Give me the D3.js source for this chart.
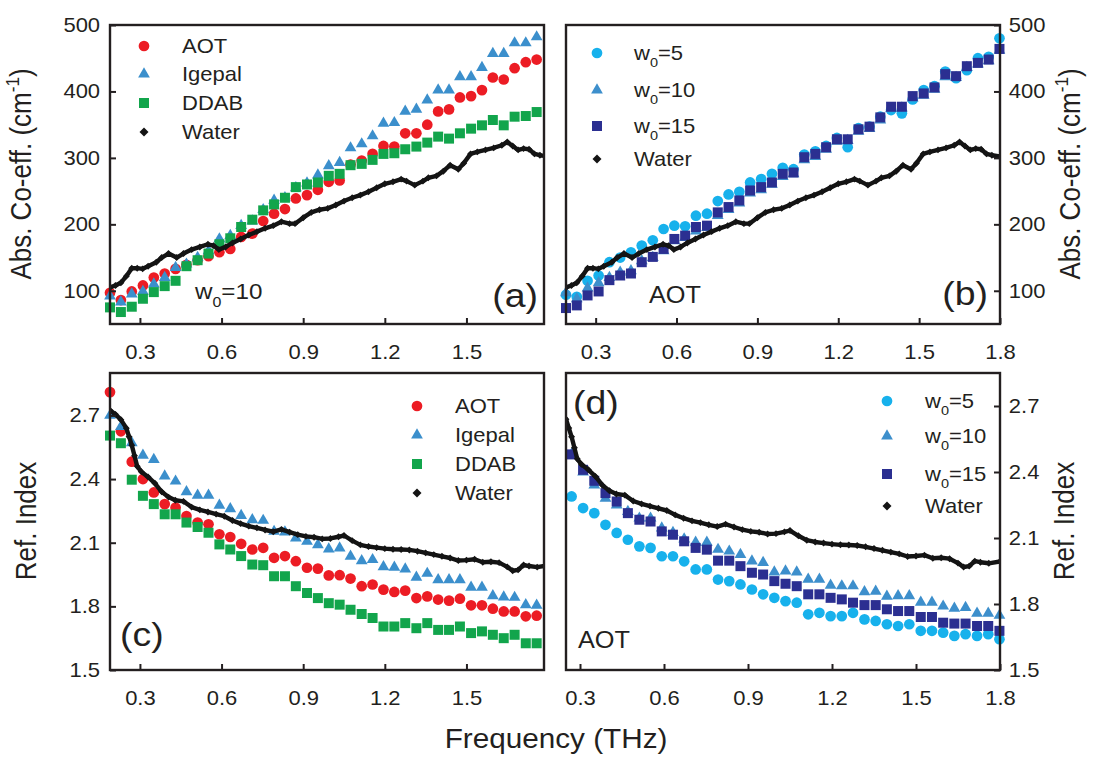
<!DOCTYPE html>
<html>
<head>
<meta charset="utf-8">
<script src="https://cdn.jsdelivr.net/npm/d3@7"></script>
<style>
  body { margin: 0; background: #fff; }
  svg text { font-family: "Liberation Sans", Arial, Helvetica, sans-serif; fill: #231f20; }
</style>
</head>
<body>
<svg id="fig" width="1104" height="757"></svg>
<script>
// ---- frequency grid shared by the surfactant / w0 series (THz) ----
const freq = [0.190, 0.230, 0.270, 0.311, 0.351, 0.391, 0.431, 0.471, 0.512, 0.552,
  0.592, 0.632, 0.672, 0.713, 0.753, 0.793, 0.833, 0.873, 0.914, 0.954,
  0.994, 1.034, 1.074, 1.115, 1.155, 1.195, 1.235, 1.275, 1.316, 1.356,
  1.396, 1.436, 1.476, 1.517, 1.557, 1.597, 1.637, 1.677, 1.718, 1.758, 1.798];

// ---- (a) absorption coefficient, w0 = 10, cm^-1 ----
const absAOT = [97, 86, 99, 108, 120, 126, 133, 139, 146, 152,
  158, 163, 181, 186, 205, 216, 223, 239, 244, 252,
  264, 266, 290, 296, 306, 318, 317, 337, 337, 350,
  370, 373, 391, 393, 402, 421, 418, 435, 444, 448];
const absIgepal = [92, 83, 95, 99, 110, 120, 135, 140, 150, 160,
  178, 183, 198, 205, 222, 236, 240, 255, 262, 274,
  288, 293, 315, 321, 333, 352, 353, 370, 373, 387,
  402, 402, 422, 422, 436, 457, 457, 473, 473, 482];
const absDDAB = [75, 68, 76, 88, 98, 107, 115, 137, 146, 156,
  170, 179, 196, 207, 221, 230, 240, 256, 260, 263,
  273, 276, 289, 291, 297, 306, 307, 313, 317, 323,
  332, 329, 337, 344, 349, 357, 349, 362, 363, 369];

// ---- (b) absorption coefficient, AOT ----
const absW5 = [94, 91, 115, 123, 143, 150, 158, 168, 176, 193,
  198, 197, 213, 216, 235, 245, 249, 263, 268, 276,
  285, 283, 305, 310, 318, 330, 316, 345, 347, 362,
  372, 367, 388, 402, 408, 430, 420, 432, 450, 452, 480];
const absW10 = [97, 88, 104, 112, 120, 128, 130, 145, 150, 160,
  175, 180, 190, 195, 213, 222, 232, 247, 252, 260,
  272, 276, 297, 302, 313, 325, 326, 340, 344, 357,
  374, 375, 390, 394, 403, 422, 421, 436, 441, 446, 462];
const absW15 = [74, 78, 93, 99, 116, 123, 126, 143, 151, 163,
  178, 183, 196, 198, 218, 226, 236, 251, 256, 263,
  276, 278, 301, 306, 316, 328, 328, 343, 347, 361,
  377, 377, 393, 397, 406, 426, 423, 438, 443, 448, 464];

// ---- bulk water absorption ----
const waterAbsFreq = [0.19, 0.21, 0.23, 0.25, 0.27, 0.29, 0.31, 0.33, 0.36, 0.38,
  0.405, 0.435, 0.46, 0.49, 0.52, 0.55, 0.57, 0.59, 0.615, 0.64,
  0.67, 0.70, 0.73, 0.76, 0.79, 0.82, 0.85, 0.87, 0.90, 0.93,
  0.96, 0.99, 1.02, 1.05, 1.08, 1.11, 1.14, 1.17, 1.20, 1.23,
  1.26, 1.28, 1.31, 1.34, 1.36, 1.39, 1.415, 1.44, 1.47, 1.49,
  1.515, 1.54, 1.57, 1.60, 1.63, 1.65, 1.67, 1.69, 1.71, 1.73,
  1.75, 1.77, 1.80];
const waterAbs = [105, 108, 112, 122, 134, 134, 133, 137, 143, 150,
  156, 150, 156, 162, 166, 170, 168, 162, 166, 172,
  178, 184, 189, 194, 198, 204, 201, 201, 210, 218,
  222, 224, 229, 235, 240, 244, 249, 255, 261, 264,
  268, 265, 259, 265, 270, 273, 280, 289, 283, 292,
  306, 309, 312, 315, 319, 324, 318, 312, 314, 313,
  306, 304, 302];

// ---- (c) refractive index, w0 = 10 ----
const riAOT = [2.81, 2.625, 2.482, 2.40, 2.337, 2.282, 2.266, 2.226, 2.195, 2.187,
  2.14, 2.127, 2.095, 2.068, 2.076, 2.029, 2.037, 2.013, 1.982, 1.978,
  1.946, 1.947, 1.931, 1.895, 1.903, 1.879, 1.868, 1.874, 1.839, 1.847,
  1.832, 1.827, 1.836, 1.805, 1.805, 1.789, 1.776, 1.776, 1.753, 1.756];
const riIgepal = [2.70, 2.647, 2.571, 2.512, 2.492, 2.414, 2.39, 2.34, 2.323, 2.323,
  2.276, 2.26, 2.228, 2.208, 2.205, 2.153, 2.15, 2.122, 2.106, 2.09,
  2.07, 2.075, 2.036, 2.015, 2.02, 1.986, 1.984, 1.976, 1.937, 1.955,
  1.925, 1.925, 1.925, 1.89, 1.89, 1.85, 1.844, 1.842, 1.807, 1.805];
const riDDAB = [2.605, 2.569, 2.397, 2.321, 2.282, 2.234, 2.234, 2.195, 2.174, 2.147,
  2.092, 2.068, 2.037, 1.997, 1.994, 1.942, 1.942, 1.895, 1.863, 1.839,
  1.815, 1.808, 1.784, 1.764, 1.745, 1.705, 1.705, 1.721, 1.697, 1.721,
  1.689, 1.689, 1.705, 1.674, 1.682, 1.666, 1.650, 1.666, 1.626, 1.626];

// ---- (d) refractive index, AOT (starts at the third grid point) ----
const riW5 = [2.289, 2.236, 2.213, 2.16, 2.123, 2.092, 2.062, 2.055, 2.017, 2.017,
  1.994, 1.957, 1.957, 1.911, 1.904, 1.889, 1.866, 1.844, 1.828, 1.813,
  1.806, 1.753, 1.76, 1.745, 1.745, 1.76, 1.73, 1.723, 1.708, 1.70,
  1.708, 1.678, 1.678, 1.67, 1.655, 1.663, 1.655, 1.663, 1.64];
const riW10 = [2.48, 2.40, 2.34, 2.28, 2.25, 2.22, 2.19, 2.19, 2.145, 2.125,
  2.095, 2.08, 2.08, 2.048, 2.04, 2.025, 1.995, 1.988, 1.945, 1.95,
  1.945, 1.912, 1.912, 1.885, 1.882, 1.882, 1.855, 1.858, 1.835, 1.837,
  1.837, 1.808, 1.808, 1.79, 1.78, 1.784, 1.758, 1.758, 1.748];
const riW15 = [2.48, 2.41, 2.36, 2.304, 2.266, 2.213, 2.183, 2.175, 2.13, 2.115,
  2.085, 2.055, 2.047, 1.997, 1.997, 1.972, 1.942, 1.934, 1.904, 1.892,
  1.881, 1.844, 1.844, 1.828, 1.821, 1.806, 1.795, 1.795, 1.776, 1.768,
  1.768, 1.741, 1.741, 1.715, 1.711, 1.711, 1.70, 1.70, 1.678];

// ---- bulk water refractive index ----
const waterRiFreq = [0.19, 0.21, 0.23, 0.25, 0.26, 0.27, 0.28, 0.29, 0.305, 0.33,
  0.355, 0.38, 0.405, 0.43, 0.46, 0.49, 0.52, 0.55, 0.58, 0.61,
  0.64, 0.67, 0.70, 0.73, 0.76, 0.79, 0.82, 0.85, 0.88, 0.91,
  0.94, 0.97, 1.00, 1.03, 1.05, 1.08, 1.11, 1.14, 1.17, 1.20,
  1.23, 1.26, 1.29, 1.32, 1.35, 1.38, 1.41, 1.44, 1.47, 1.50,
  1.53, 1.56, 1.59, 1.62, 1.65, 1.67, 1.69, 1.71, 1.73, 1.76, 1.80];
const waterRi = [2.724, 2.705, 2.68, 2.64, 2.60, 2.56, 2.51, 2.46, 2.435, 2.41,
  2.38, 2.34, 2.315, 2.30, 2.295, 2.268, 2.255, 2.245, 2.235, 2.225,
  2.205, 2.19, 2.178, 2.17, 2.16, 2.152, 2.163, 2.15, 2.138, 2.13,
  2.126, 2.118, 2.12, 2.128, 2.134, 2.11, 2.09, 2.082, 2.077, 2.072,
  2.069, 2.068, 2.066, 2.06, 2.052, 2.044, 2.036, 2.028, 2.016, 2.018,
  2.022, 2.008, 2.010, 2.006, 1.986, 1.968, 1.972, 1.995, 1.99, 1.985, 1.993];

// ---- tick labels ----
const freqTicksShort = [0.3, 0.6, 0.9, 1.2, 1.5];
const freqTicksFull = [0.3, 0.6, 0.9, 1.2, 1.5, 1.8];
const absTicks = [100, 200, 300, 400, 500];
const riTicks = [1.5, 1.8, 2.1, 2.4, 2.7];

// ---- colours ----
const C = {
  aot: "#ec1c24", igepal: "#3b8fcc", ddab: "#12a54c",
  w5: "#17b1ec", w10: "#3d8fcc", w15: "#2b2f91", water: "#141414"
};

const svg = d3.select("#fig");
const SX = 1.1;           // horizontal glyph stretch used by the figure's lettering
const INK = "#231f20";

function markerPath(shape, k = 1) {
  const t = { circle: [d3.symbolCircle, 90], triangle: [d3.symbolTriangle, 60],
              square: [d3.symbolSquare, 100], diamond: [d3.symbolSquare, 34] }[shape];
  return d3.symbol(t[0], t[1] * k)();
}

// text with optional subscript / superscript runs
function richText(parent, x, y, parts, size, anchor = "start", rotate = 0) {
  const tr = rotate
    ? `translate(${x},${y}) rotate(${rotate}) scale(1,${SX})`
    : `translate(${x},${y}) scale(${SX},1)`;
  const t = parent.append("text").attr("transform", tr)
    .attr("font-size", size).attr("text-anchor", anchor);
  let shift = 0;
  parts.forEach(p => {
    const target = p.sub ? size * 0.36 : p.sup ? -size * 0.42 : 0;
    const ts = t.append("tspan").text(p.t).attr("dy", target - shift);
    if (p.sub || p.sup) ts.attr("font-size", size * 0.66);
    shift = target;
  });
  return t;
}

function drawPanel(p) {
  const x = d3.scaleLinear().domain(p.xDomain).range([p.left, p.right]);
  const y = d3.scaleLinear().domain(p.yDomain).range([p.bottom, p.top]);
  const g = svg.append("g").attr("class", "panel-" + p.id);

  const clipId = "clip-" + p.id;
  svg.append("defs").append("clipPath").attr("id", clipId).append("rect")
    .attr("x", p.left).attr("y", p.top)
    .attr("width", p.right - p.left).attr("height", p.bottom - p.top);

  // scattered markers
  p.series.forEach(s => {
    const pts = s.values.map((v, i) => ({ f: freq[i + p.offset], v }));
    g.append("g").selectAll("path").data(pts).join("path")
      .attr("d", markerPath(s.shape))
      .attr("transform", d => `translate(${x(d.f)},${y(d.v)})`)
      .attr("fill", s.color);
  });

  // bulk water: dense diamonds forming a heavy trace
  const wpts = p.water.f.map((f, i) => ({ f, v: p.water.v[i] }));
  const wg = g.append("g").attr("clip-path", `url(#${clipId})`);
  wg.append("path").datum(wpts)
    .attr("d", d3.line().x(d => x(d.f)).y(d => y(d.v)))
    .attr("fill", "none").attr("stroke", C.water)
    .attr("stroke-width", 4.4).attr("stroke-linejoin", "round").attr("stroke-linecap", "round");
  wg.selectAll("path.wd").data(wpts).join("path").attr("class", "wd")
    .attr("d", markerPath("diamond", 0.7))
    .attr("transform", d => `translate(${x(d.f)},${y(d.v)}) rotate(45)`)
    .attr("fill", C.water);

  // axes (inward ticks)
  const xa = d3.axisBottom(x).tickValues(p.xTicks).tickFormat(d3.format(".1f"))
    .tickSize(-6).tickSizeOuter(0).tickPadding(21);
  const gx = g.append("g").attr("transform", `translate(0,${p.bottom})`).call(xa);

  const ya = (p.ySide === "left" ? d3.axisLeft(y) : d3.axisRight(y))
    .tickValues(p.yTicks).tickFormat(p.yFormat)
    .tickSize(-6).tickSizeOuter(0).tickPadding(p.ySide === "left" ? 9 : 8);
  const gy = g.append("g")
    .attr("transform", `translate(${p.ySide === "left" ? p.left : p.right},0)`).call(ya);

  [gx, gy].forEach(a => {
    a.select(".domain").remove();
    a.attr("font-family", null).attr("font-size", null);
    a.selectAll(".tick line").attr("stroke", INK).attr("stroke-width", 2);
    a.selectAll(".tick text").attr("font-size", 20).attr("fill", "#2a2a2a")
      .attr("transform", `scale(${SX},1)`);
  });

  // frame
  g.append("rect").attr("x", p.left).attr("y", p.top)
    .attr("width", p.right - p.left).attr("height", p.bottom - p.top)
    .attr("fill", "none").attr("stroke", INK).attr("stroke-width", 2.4);

  // legend
  p.legend.items.forEach((it, i) => {
    const ly = p.legend.rows[i];
    g.append("path")
      .attr("d", markerPath(it.shape, it.shape === "diamond" ? 1.2 : 1))
      .attr("transform", `translate(${p.legend.mx},${ly})${it.shape === "diamond" ? " rotate(45)" : ""}`)
      .attr("fill", it.color);
    richText(g, p.legend.tx, ly + 7, it.label, 20);
  });

  // panel tag and annotation
  richText(g, p.tag.x, p.tag.y, [{ t: p.tag.text }], 34, p.tag.anchor);
  if (p.note) richText(g, p.note.x, p.note.y, p.note.parts, p.note.size);
}

const surfLegend = [
  { shape: "circle", color: C.aot, label: [{ t: "AOT" }] },
  { shape: "triangle", color: C.igepal, label: [{ t: "Igepal" }] },
  { shape: "square", color: C.ddab, label: [{ t: "DDAB" }] },
  { shape: "diamond", color: C.water, label: [{ t: "Water" }] }
];
const w0Legend = [
  { shape: "circle", color: C.w5, label: [{ t: "w" }, { t: "0", sub: true }, { t: "=5" }] },
  { shape: "triangle", color: C.w10, label: [{ t: "w" }, { t: "0", sub: true }, { t: "=10" }] },
  { shape: "square", color: C.w15, label: [{ t: "w" }, { t: "0", sub: true }, { t: "=15" }] },
  { shape: "diamond", color: C.water, label: [{ t: "Water" }] }
];

const panels = [
  { id: "a", left: 110, right: 544, top: 25, bottom: 324,
    xDomain: [0.19, 1.785], yDomain: [50, 500], xTicks: freqTicksShort, yTicks: absTicks,
    yFormat: d3.format("d"), ySide: "left", offset: 0,
    series: [
      { values: absAOT, shape: "circle", color: C.aot },
      { values: absIgepal, shape: "triangle", color: C.igepal },
      { values: absDDAB, shape: "square", color: C.ddab }],
    water: { f: waterAbsFreq, v: waterAbs },
    legend: { mx: 144, tx: 182, rows: [46, 74, 103, 132], items: surfLegend },
    tag: { text: "(a)", x: 538, y: 307, anchor: "end" },
    note: { x: 195, y: 299, size: 22, parts: [{ t: "w" }, { t: "0", sub: true }, { t: "=10" }] } },
  { id: "b", left: 566, right: 1000, top: 25, bottom: 324,
    xDomain: [0.19, 1.8], yDomain: [50, 500], xTicks: freqTicksFull, yTicks: absTicks,
    yFormat: d3.format("d"), ySide: "right", offset: 0,
    series: [
      { values: absW5, shape: "circle", color: C.w5 },
      { values: absW10, shape: "triangle", color: C.w10 },
      { values: absW15, shape: "square", color: C.w15 }],
    water: { f: waterAbsFreq, v: waterAbs },
    legend: { mx: 597, tx: 634, rows: [53, 90, 126, 159], items: w0Legend },
    tag: { text: "(b)", x: 988, y: 305, anchor: "end" },
    note: { x: 649, y: 303, size: 23, parts: [{ t: "AOT" }] } },
  { id: "c", left: 110, right: 544, top: 373, bottom: 670,
    xDomain: [0.19, 1.785], yDomain: [1.5, 2.9], xTicks: freqTicksShort, yTicks: riTicks,
    yFormat: d3.format(".1f"), ySide: "left", offset: 0,
    series: [
      { values: riAOT, shape: "circle", color: C.aot },
      { values: riIgepal, shape: "triangle", color: C.igepal },
      { values: riDDAB, shape: "square", color: C.ddab }],
    water: { f: waterRiFreq, v: waterRi },
    legend: { mx: 417, tx: 455, rows: [406, 435, 464, 493], items: surfLegend },
    tag: { text: "(c)", x: 120, y: 646, anchor: "start" } },
  { id: "d", left: 566, right: 1000, top: 373, bottom: 670,
    xDomain: [0.25, 1.8], yDomain: [1.5, 2.85], xTicks: freqTicksFull, yTicks: riTicks,
    yFormat: d3.format(".1f"), ySide: "right", offset: 2,
    series: [
      { values: riW5, shape: "circle", color: C.w5 },
      { values: riW10, shape: "triangle", color: C.w10 },
      { values: riW15, shape: "square", color: C.w15 }],
    water: { f: waterRiFreq, v: waterRi },
    legend: { mx: 887, tx: 925, rows: [401, 436, 474, 506], items: w0Legend },
    tag: { text: "(d)", x: 573, y: 414, anchor: "start" },
    note: { x: 578, y: 648, size: 23, parts: [{ t: "AOT" }] } }
];

panels.forEach(drawPanel);

// axis titles
const absTitle = [{ t: "Abs. Co-eff. (cm" }, { t: "-1", sup: true }, { t: ")" }];
richText(svg, 31, 174, absTitle, 26, "middle", -90).attr("dy", "0.35em");
richText(svg, 1080, 174, absTitle, 26, "middle", -90).attr("dy", "0.35em");
richText(svg, 36, 521, [{ t: "Ref. Index" }], 26, "middle", -90).attr("dy", "0.35em");
richText(svg, 1074, 521, [{ t: "Ref. Index" }], 26, "middle", -90).attr("dy", "0.35em");
richText(svg, 556, 748, [{ t: "Frequency (THz)" }], 27, "middle");
</script>
</body>
</html>
